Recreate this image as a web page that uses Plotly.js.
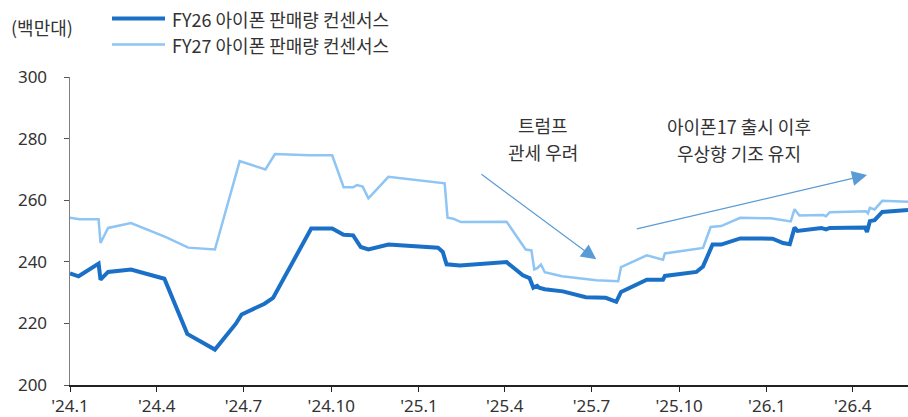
<!DOCTYPE html>
<html>
<head>
<meta charset="utf-8">
<script src="https://cdn.plot.ly/plotly-3.0.1.min.js"></script>
<style>
html,body{margin:0;padding:0;background:#fff;}
#chart{width:908px;height:417px;}
</style>
</head>
<body>
<div id="chart"></div>
<script>
// ---- data ----
const seriesNames = ['FY26 아이폰 판매량 컨센서스', 'FY27 아이폰 판매량 컨센서스'];
const unitLabel = '(백만대)';

const fy26Dates = ['2024-01-01','2024-01-10','2024-01-31','2024-02-02','2024-02-10','2024-03-05','2024-04-09','2024-05-03','2024-06-01','2024-06-23','2024-06-29','2024-07-23','2024-08-01','2024-09-10','2024-10-02','2024-10-14','2024-10-24','2024-11-01','2024-11-09','2024-11-30','2025-01-21','2025-01-26','2025-01-30','2025-02-13','2025-04-03','2025-04-20','2025-04-27','2025-05-01','2025-05-05','2025-05-07','2025-05-13','2025-06-01','2025-06-25','2025-07-16','2025-07-27','2025-08-01','2025-08-28','2025-09-14','2025-09-16','2025-10-19','2025-10-26','2025-11-05','2025-11-14','2025-12-04','2026-01-07','2026-01-18','2026-01-25','2026-01-30','2026-02-02','2026-02-27','2026-03-04','2026-03-08','2026-04-14','2026-04-16','2026-04-19','2026-04-24','2026-05-02','2026-05-29'];
const fy26Values = [236.2,235.3,239.4,234.2,236.7,237.5,234.5,216.6,211.5,219.9,222.9,226.4,228.3,250.8,250.8,248.8,248.6,244.8,244.0,245.6,244.6,243.2,239.2,238.8,239.9,235.6,234.7,231.6,232.2,231.6,231.1,230.4,228.5,228.3,227.0,230.2,234.2,234.2,235.4,236.7,238.5,245.6,245.6,247.6,247.5,246.1,245.7,251.1,250.0,251.0,250.5,251.0,251.1,249.7,253.2,253.5,256.2,256.8];

const fy27Dates = ['2024-01-01','2024-01-11','2024-01-31','2024-02-02','2024-02-10','2024-03-05','2024-04-10','2024-05-04','2024-06-01','2024-06-27','2024-07-24','2024-08-03','2024-09-08','2024-10-02','2024-10-14','2024-10-24','2024-10-28','2024-11-03','2024-11-09','2024-11-30','2025-01-28','2025-01-31','2025-02-06','2025-02-14','2025-04-03','2025-04-23','2025-04-29','2025-05-02','2025-05-05','2025-05-09','2025-05-13','2025-05-31','2025-07-06','2025-07-29','2025-08-01','2025-08-28','2025-09-14','2025-09-16','2025-10-26','2025-11-03','2025-11-14','2025-12-04','2026-01-05','2026-01-26','2026-01-30','2026-02-04','2026-03-01','2026-03-04','2026-03-08','2026-04-15','2026-04-17','2026-04-19','2026-04-24','2026-05-02','2026-05-29'];
const fy27Values = [254.3,253.8,253.8,246.1,251.0,252.6,248.1,244.6,244.0,272.7,270.0,275.0,274.6,274.6,264.2,264.2,264.9,264.4,260.6,267.6,265.5,254.3,254.0,252.9,253.0,244.0,243.7,237.5,237.9,239.1,236.6,235.3,234.0,233.7,238.3,242.1,240.7,242.7,244.5,251.3,251.6,254.3,254.1,253.1,257.1,255.0,255.2,254.8,256.1,256.4,255.7,257.5,257.0,259.8,259.5];

const tickDates = ['2024-01-01','2024-04-01','2024-07-01','2024-10-01','2025-01-01','2025-04-01','2025-07-01','2025-10-01','2026-01-01','2026-04-01'];
const tickLabels = ["'24.1","'24.4","'24.7","'24.10","'25.1","'25.4","'25.7","'25.10","'26.1","'26.4"];
const yTicks = [200,220,240,260,280,300];

const note1Lines = ['트럼프', '관세 우려'];
const note2Lines = ['아이폰17 출시 이후', '우상향 기조 유지'];

// ---- styles ----
const C26 = '#1A70C6';
const C27 = '#8EC5F4';
const ARROW = '#5B9BD5';
const TXT = '#333333';
const KFONT = '"Noto Sans CJK KR", "Noto Sans", sans-serif';
const TFONT = '"Noto Sans", "Open Sans", sans-serif';

const traces = [
  {x: fy26Dates, y: fy26Values, type: 'scatter', mode: 'lines', name: seriesNames[0],
   line: {color: C26, width: 4}, showlegend: false},
  {x: fy27Dates, y: fy27Values, type: 'scatter', mode: 'lines', name: seriesNames[1],
   line: {color: C27, width: 2.5}, showlegend: false}
];

const py = v => (384.3 - v) / 307;   // paper y from pixel row
const px = v => (v - 70) / 838;      // paper x from pixel column

function note(xDate, yVal, txt) {
  return {xref: 'x', yref: 'y', x: xDate, y: yVal, xanchor: 'center', yanchor: 'middle',
          text: txt, showarrow: false, font: {family: KFONT, size: 18, color: TXT}};
}

const layout = {
  width: 908, height: 417,
  margin: {l: 70, r: 0, t: 77, b: 32, pad: 0},
  paper_bgcolor: '#fff', plot_bgcolor: '#fff',
  showlegend: false,
  xaxis: {
    type: 'date', range: ['2024-01-01', '2026-05-29'],
    tickvals: tickDates, ticktext: tickLabels,
    showgrid: false, zeroline: false,
    showline: true, linecolor: '#222', linewidth: 1.5,
    ticks: 'outside', ticklen: 5, tickcolor: '#222', tickwidth: 1,
    tickfont: {family: TFONT, size: 17, color: TXT}
  },
  yaxis: {
    range: [200, 300], tickvals: yTicks,
    showgrid: false, zeroline: false,
    showline: true, linecolor: '#7f7f7f', linewidth: 1.5,
    ticks: 'outside', ticklen: 5, tickcolor: '#555', tickwidth: 1,
    ticklabelstandoff: 13,
    tickfont: {family: TFONT, size: 17, color: TXT}
  },
  shapes: [
    {type: 'line', xref: 'paper', yref: 'paper', x0: px(112), x1: px(165),
     y0: py(19), y1: py(19), line: {color: C26, width: 4}},
    {type: 'line', xref: 'paper', yref: 'paper', x0: px(112), x1: px(165),
     y0: py(45), y1: py(45), line: {color: C27, width: 2.5}}
  ],
  annotations: [
    {xref: 'paper', yref: 'paper', x: px(170), y: py(19), xanchor: 'left', yanchor: 'middle',
     text: seriesNames[0], showarrow: false, font: {family: KFONT, size: 18, color: TXT}},
    {xref: 'paper', yref: 'paper', x: px(170), y: py(45), xanchor: 'left', yanchor: 'middle',
     text: seriesNames[1], showarrow: false, font: {family: KFONT, size: 18, color: TXT}},
    {xref: 'paper', yref: 'paper', x: px(9), y: py(27), xanchor: 'left', yanchor: 'middle',
     text: unitLabel, showarrow: false, font: {family: KFONT, size: 18, color: TXT}},
    note('2025-05-11', 284.5, note1Lines[0]),
    note('2025-05-11', 275.7, note1Lines[1]),
    note('2025-12-03', 284.1, note2Lines[0]),
    note('2025-12-03', 275.3, note2Lines[1]),
    {xref: 'x', yref: 'y', axref: 'x', ayref: 'y', x: '2025-07-06', y: 240.8, ax: '2025-03-06', ay: 268.8,
     text: '', showarrow: true, arrowhead: 2, arrowsize: 2.5, arrowwidth: 1.2, arrowcolor: ARROW},
    {xref: 'x', yref: 'y', axref: 'x', ayref: 'y', x: '2026-04-16', y: 268.2, ax: '2025-08-16', ay: 250.6,
     text: '', showarrow: true, arrowhead: 2, arrowsize: 2.5, arrowwidth: 1.2, arrowcolor: ARROW}
  ]
};

Plotly.newPlot('chart', traces, layout, {displayModeBar: false, staticPlot: true});
</script>
</body>
</html>
